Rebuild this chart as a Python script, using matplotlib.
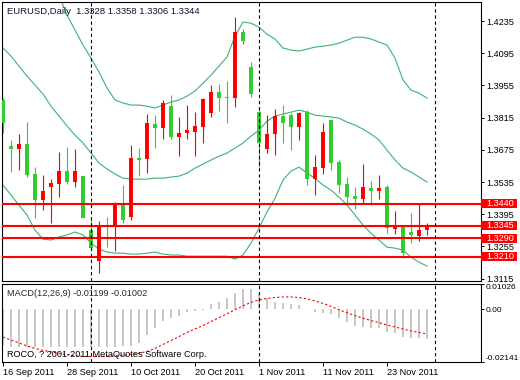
import matplotlib
matplotlib.use('Agg')
import matplotlib.pyplot as plt
from matplotlib.patches import Rectangle
import numpy as np

# EURUSD daily bars, 16 Sep 2011 .. 30 Nov 2011
opens = [1.3892, 1.3692, 1.3680, 1.3702, 1.3570, 1.3457, 1.3515, 1.3526, 1.3583, 1.3535,
         1.3561, 1.3326, 1.3193, 1.3347, 1.3346, 1.3435, 1.3383, 1.3638, 1.3635, 1.3787,
         1.3772, 1.3865, 1.3732, 1.3749, 1.3754, 1.3775, 1.3836, 1.3925, 1.3903, 1.3902,
         1.4186, 1.4034, 1.3839, 1.3677, 1.3745, 1.3822, 1.3826, 1.3775, 1.3838, 1.3549,
         1.3597, 1.3805, 1.3621, 1.3526, 1.3474, 1.3462, 1.3509, 1.3497, 1.3515, 1.3332,
         1.3344, 1.3319, 1.3300, 1.3328]
highs = [1.3900, 1.3718, 1.3745, 1.3796, 1.3600, 1.3565, 1.3548, 1.3665, 1.3687, 1.3679,
         1.3561, 1.3377, 1.3367, 1.3382, 1.3449, 1.3522, 1.3696, 1.3683, 1.3831, 1.3826,
         1.3892, 1.3913, 1.3819, 1.3870, 1.3841, 1.3899, 1.3957, 1.3961, 1.3975, 1.4251,
         1.4199, 1.4058, 1.3855, 1.3826, 1.3851, 1.3870, 1.3836, 1.3841, 1.3848, 1.3652,
         1.3793, 1.3805, 1.3631, 1.3558, 1.3512, 1.3613, 1.3541, 1.3565, 1.3522, 1.3410,
         1.3344, 1.3399, 1.3439, 1.3358]
lows = [1.3749, 1.3580, 1.3587, 1.3558, 1.3380, 1.3413, 1.3358, 1.3470, 1.3526, 1.3513,
        1.3380, 1.3235, 1.3141, 1.3254, 1.3236, 1.3355, 1.3370, 1.3561, 1.3575, 1.3682,
        1.3721, 1.3721, 1.3648, 1.3721, 1.3648, 1.3703, 1.3819, 1.3845, 1.3793, 1.3862,
        1.4134, 1.3903, 1.3602, 1.3662, 1.3652, 1.3706, 1.3674, 1.3718, 1.3522, 1.3478,
        1.3570, 1.3587, 1.3488, 1.3442, 1.3416, 1.3439, 1.3435, 1.3460, 1.3312, 1.3309,
        1.3206, 1.3269, 1.3279, 1.3306]
closes = [1.3793, 1.3680, 1.3702, 1.3565, 1.3457, 1.3496, 1.3532, 1.3583, 1.3535, 1.3583,
          1.3380, 1.3250, 1.3345, 1.3341, 1.3439, 1.3370, 1.3639, 1.3631, 1.3794, 1.3772,
          1.3877, 1.3732, 1.3747, 1.3761, 1.3778, 1.3896, 1.3926, 1.3902, 1.3900, 1.4188,
          1.4149, 1.3916, 1.3703, 1.3745, 1.3822, 1.3790, 1.3775, 1.3836, 1.3549, 1.3600,
          1.3752, 1.3619, 1.3522, 1.3471, 1.3462, 1.3515, 1.3497, 1.3509, 1.3334, 1.3344,
          1.3228, 1.3305, 1.3326, 1.3344]

# Bollinger bands
bb_upper = [1.4674, 1.4631, 1.4587, 1.4544, 1.4500, 1.4457, 1.4405, 1.4348, 1.4261, 1.4196,
            1.4131, 1.4074, 1.4013, 1.3944, 1.3892, 1.3879, 1.3870, 1.3870, 1.3865, 1.3857,
            1.3870, 1.3883, 1.3892, 1.3909, 1.3931, 1.3965, 1.4000, 1.4039, 1.4079, 1.4170,
            1.4231, 1.4226, 1.4209, 1.4178, 1.4157, 1.4118, 1.4109, 1.4105, 1.4113, 1.4122,
            1.4126, 1.4131, 1.4139, 1.4152, 1.4165, 1.4165, 1.4157, 1.4144, 1.4131, 1.4074,
            1.3979, 1.3935, 1.3922, 1.3900]
bb_mid = [1.4118, 1.4083, 1.4039, 1.3996, 1.3957, 1.3918, 1.3865, 1.3822, 1.3779, 1.3739,
          1.3705, 1.3661, 1.3618, 1.3592, 1.3570, 1.3552, 1.3548, 1.3548, 1.3548, 1.3552,
          1.3552, 1.3557, 1.3561, 1.3574, 1.3596, 1.3613, 1.3631, 1.3648, 1.3661, 1.3683,
          1.3705, 1.3735, 1.3761, 1.3800, 1.3822, 1.3831, 1.3839, 1.3848, 1.3839, 1.3826,
          1.3822, 1.3818, 1.3813, 1.3796, 1.3783, 1.3765, 1.3744, 1.3718, 1.3674, 1.3631,
          1.3596, 1.3579, 1.3557, 1.3535]
bb_lower = [1.3522, 1.3479, 1.3435, 1.3392, 1.3326, 1.3287, 1.3283, 1.3296, 1.3305, 1.3318,
            1.3305, 1.3270, 1.3244, 1.3231, 1.3226, 1.3226, 1.3222, 1.3222, 1.3226, 1.3231,
            1.3222, 1.3218, 1.3218, 1.3213, 1.3213, 1.3213, 1.3213, 1.3213, 1.3213, 1.3200,
            1.3218, 1.3270, 1.3335, 1.3405, 1.3465, 1.3544, 1.3583, 1.3600, 1.3574, 1.3552,
            1.3522, 1.3500, 1.3470, 1.3435, 1.3392, 1.3348, 1.3313, 1.3283, 1.3252, 1.3248,
            1.3239, 1.3209, 1.3187, 1.3170]

# MACD(12,26,9)
macd_main = [-0.0150, -0.0152, -0.0153, -0.0153, -0.0154, -0.0155, -0.0155, -0.0154, -0.0153, -0.0152,
             -0.0152, -0.0153, -0.0154, -0.0153, -0.0152, -0.0150, -0.0148, -0.0137, -0.0104, -0.0077,
             -0.0046, -0.0034, -0.0026, -0.0012, -0.0007, -0.0003, 0.0020, 0.0031, 0.0045, 0.0065,
             0.0082, 0.0082, 0.0068, 0.0045, 0.0030, 0.0026, 0.0020, 0.0016, 0.0002, -0.0012,
             -0.0016, -0.0020, -0.0037, -0.0051, -0.0067, -0.0071, -0.0075, -0.0076, -0.0091, -0.0097,
             -0.0111, -0.0118, -0.0116, -0.01199]
macd_signal = [-0.0113, -0.0125, -0.0137, -0.0149, -0.0159, -0.0167, -0.0173, -0.0179, -0.0185, -0.0189,
               -0.0191, -0.0192, -0.0192, -0.0191, -0.0189, -0.0187, -0.0183, -0.0179, -0.0171, -0.0159,
               -0.0143, -0.0127, -0.0111, -0.0094, -0.0080, -0.0066, -0.0050, -0.0034, -0.0018, -0.0002,
               0.0014, 0.0028, 0.0038, 0.0044, 0.0048, 0.0050, 0.0050, 0.0048, 0.0042, 0.0034,
               0.0024, 0.0012, -0.0002, -0.0014, -0.0026, -0.0036, -0.0046, -0.0054, -0.0064, -0.0072,
               -0.0080, -0.0088, -0.0094, -0.01002]

levels = [1.3440, 1.3345, 1.3290, 1.3210]
price_ticks = [1.4235, 1.4095, 1.3955, 1.3815, 1.3675, 1.3535, 1.3395, 1.3255, 1.3115]
date_idx = [0, 8, 16, 24, 32, 40, 48]
date_labels = ['16 Sep 2011', '28 Sep 2011', '10 Oct 2011', '20 Oct 2011',
               '1 Nov 2011', '11 Nov 2011', '23 Nov 2011']
separators = [11, 32, 54]   # first bar of Oct, Nov, Dec

plt.rcParams['font.family'] = ['Liberation Sans', 'DejaVu Sans']
FS = 6.6

W, H = 520, 380
fig = plt.figure(figsize=(W / 100, H / 100), dpi=100)
ax = fig.add_axes([2 / W, 1 - 281 / H, 479 / W, 279 / H])
ax2 = fig.add_axes([2 / W, 1 - 362 / H, 479 / W, 78 / H])

o = np.array(opens)
c = np.array(closes)
x = np.arange(len(o))
cols = np.where(c >= o, '#ff0000', '#32cd32')

# bollinger bands
for band in (bb_upper, bb_mid, bb_lower):
    ax.plot(x, band, color='#3cb371', lw=0.8, zorder=1)

# candles
ax.vlines(x, lows, highs, colors=cols, lw=0.8, zorder=2)
ax.bar(x, np.maximum(np.abs(c - o), 0.0004), bottom=np.minimum(o, c),
       width=0.62, color=cols, linewidth=0, zorder=3)

for lv in levels:
    ax.axhline(lv, color='#ff0000', lw=1.5, zorder=4)

for s in separators:
    for a in (ax, ax2):
        a.axvline(s, color='black', lw=0.8, ls=(0, (3, 2.5)), zorder=5)

ax.set_xlim(-0.125, 59.75)
ax.set_ylim(1.3105, 1.4318)
ax.set_xticks([])
ax.yaxis.tick_right()
ax.set_yticks(price_ticks)
ax.set_yticklabels(['%.4f' % t for t in price_ticks], fontsize=FS)
ax.tick_params(axis='y', length=2.5, width=0.7, pad=1.5)

# red price labels for the horizontal levels
trans = ax.get_yaxis_transform()
for lv in levels:
    ax.add_patch(Rectangle((1.0, lv - 0.00195), 36 / 479, 0.0039, transform=trans,
                           facecolor='#ff0000', edgecolor='none', clip_on=False, zorder=6))
    ax.text(1 + 5.5 / 479, lv, '%.4f' % lv, transform=trans, color='white', fontsize=FS,
            va='center', ha='left', zorder=7, clip_on=False)

ax.text(5 / 479, 1 - 9 / 279, 'EURUSD,Daily  1.3328 1.3358 1.3306 1.3344', transform=ax.transAxes,
        fontsize=FS + 0.2, va='center', ha='left', color='#101030')

# MACD panel
ax2.vlines(x, 0, macd_main, colors='#bdbdbd', lw=1.2, zorder=1)
ax2.plot(x, macd_signal, color='#ff0000', lw=0.8, ls=(0, (2, 2)), zorder=2)
ax2.set_xlim(-0.125, 59.75)
ax2.set_ylim(-0.02141, 0.01026)
ax2.yaxis.tick_right()
ax2.set_yticks([0.01026, 0.0, -0.02141])
ax2.set_yticklabels(['0.01026', '0.00', '-0.02141'], fontsize=6.0)
lbls = ax2.get_yticklabels()
lbls[0].set_va('top')
lbls[2].set_va('bottom')
ax2.tick_params(axis='y', length=2.5, width=0.7, pad=1.0)
ax2.set_xticks(date_idx)
ax2.set_xticklabels(date_labels, fontsize=FS)
for lb in ax2.get_xticklabels():
    lb.set_ha('left')
ax2.tick_params(axis='x', length=3, width=0.7, pad=1.5)

ax2.text(5 / 479, 0.875, 'MACD(12,26,9) -0.01199 -0.01002', transform=ax2.transAxes,
         fontsize=FS, va='center', ha='left', color='#202838')
ax2.text(5 / 479, 0.10, 'ROCO, ? 2001-2011 MetaQuotes Software Corp.', transform=ax2.transAxes,
         fontsize=FS, va='center', ha='left', color='black', zorder=6)

for a in (ax, ax2):
    for sp in a.spines.values():
        sp.set_linewidth(0.8)

fig.savefig('out.png', dpi=100)
